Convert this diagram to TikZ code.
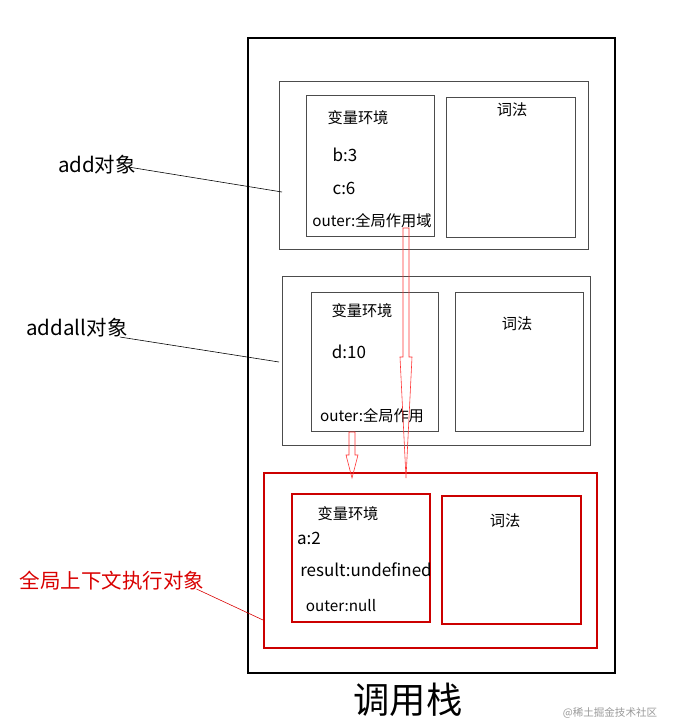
\documentclass[tikz,border=0pt]{standalone}
\usepackage{fontspec}
\setmainfont{Noto Sans CJK SC}
\usetikzlibrary{positioning}
\newcommand{\blockarrow}[4]{% x, top, head start, tip
  \draw[hollow] (#1-3,#2) -- (#1+3,#2) -- (#1+3,#3) -- (#1+6,#3) -- (#1,#4) -- (#1-6,#3) -- (#1-3,#3) -- cycle;}
\begin{document}
\begin{tikzpicture}[x=0.03cm, y=-0.03cm,
    frame/.style={draw=black!70, line width=0.6pt},
    redframe/.style={draw=red!80!black, line width=1.1pt},
    txt/.style={font=\fontsize{13}{15}\selectfont, inner sep=0pt},
    big/.style={font=\fontsize{14.5}{16}\selectfont, inner sep=0pt},
    tag/.style={font=\fontsize{17.5}{19}\selectfont, inner sep=0pt},
    hollow/.style={draw=red!80, line width=0.5pt},
    pointer/.style={draw=black, line width=0.5pt}
]
\useasboundingbox (0,0) rectangle (676,727);

% call stack
\draw[black, line width=1pt] (248,38) rectangle (615,673);
\node[font=\fontsize{31}{33}\selectfont, inner sep=0pt] (stack) at (408,700) {调用栈};

% add object
\draw[frame] (279,81) rectangle (588,249);
\draw[frame] (306,95) rectangle (434,236);
\draw[frame] (446,97) rectangle (575,237);
\node[txt] (addenv) at (358,118) {变量环境};
\node[big] (addb) at (345,155) {b:3};
\node[big] (addc) at (344,188) {c:6};
\node[txt] (addouter) at (372,221) {outer:全局作用域};
\node[txt] (addlex) at (512,110) {词法};

% addall object
\draw[frame] (282,276) rectangle (590,445);
\draw[frame] (311,292) rectangle (438,431);
\draw[frame] (455,292) rectangle (583,431);
\node[txt] (allenv) at (362,311) {变量环境};
\node[big] (alld) at (349,352) {d:10};
\node[txt] (allouter) at (372,416) {outer:全局作用};
\node[txt] (alllex) at (517,324) {词法};

% global context
\draw[redframe] (264,473) rectangle (597,648);
\draw[redframe] (292,494) rectangle (430,622);
\draw[redframe] (442,496) rectangle (581,624);
\node[txt] (glenv) at (348,514) {变量环境};
\node[big] (gla) at (309,538) {a:2};
\node[big] (glres) at (366,570) {result:undefined};
\node[txt] (glouter) at (341,606) {outer:null};
\node[txt] (gllex) at (505,521) {词法};

% outer pointers
\blockarrow{406}{228}{357}{478}
\blockarrow{352}{432}{455}{478}

% side labels
\node[tag] (addtag) at (97,165) {add对象};
\node[tag] (alltag) at (77,328) {addall对象};
\node[tag, text=red!85!black] (gltag) at (112,581) {全局上下文执行对象};
\coordinate (addend) at (282,192);
\coordinate (allend) at (279,362);
\coordinate (glend) at (263,620);
\draw[pointer] (addtag.east) ++(-8,2) -- (addend);
\draw[pointer] (alltag.east) ++(-8,9) -- (allend);
\draw[pointer, draw=red!85!black] (gltag.east) ++(-8,8) -- (glend);

% watermark
\node[font=\fontsize{9}{10}\selectfont, text=black!40, inner sep=0pt] (mark) at (610,713) {@稀土掘金技术社区};
\end{tikzpicture}
\end{document}
